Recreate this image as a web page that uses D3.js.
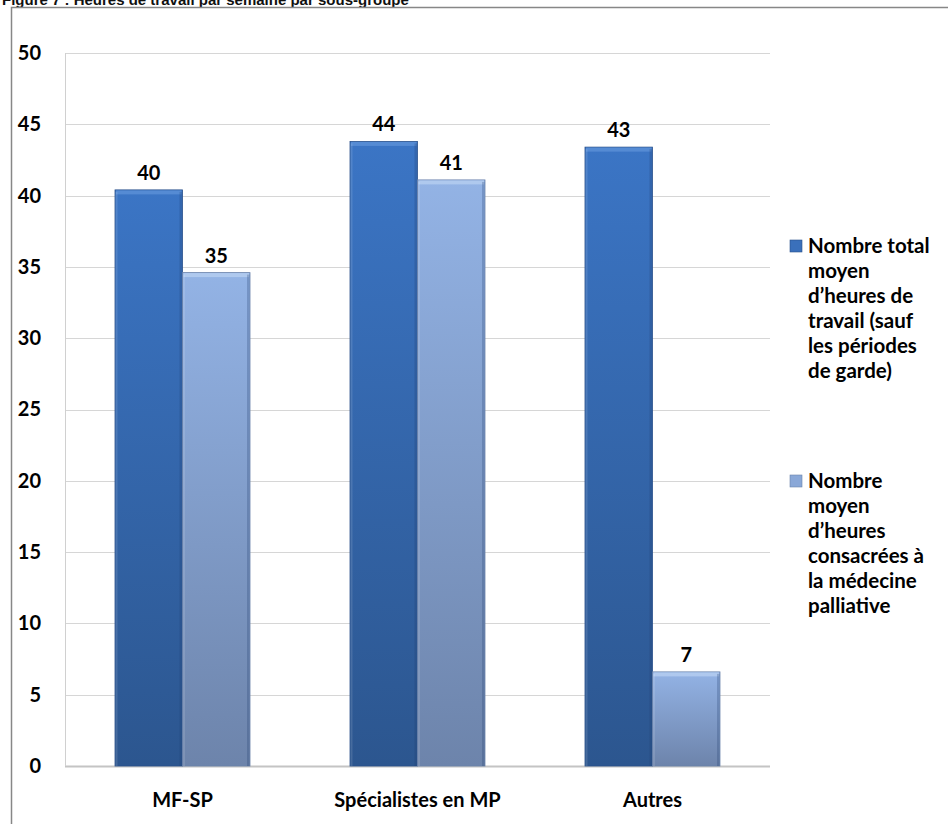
<!DOCTYPE html>
<html>
<head>
<meta charset="utf-8">
<script src="https://cdn.jsdelivr.net/npm/d3@7/dist/d3.min.js"></script>
<style>
  html, body { margin: 0; padding: 0; background: #fff; }
  svg { display: block; }
</style>
</head>
<body>
<script>
// Hours worked per week, by subgroup
const categories = ["MF-SP", "Spécialistes en MP", "Autres"];
const seriesNames = [
  "Nombre total moyen d’heures de travail (sauf les périodes de garde)",
  "Nombre moyen d’heures consacrées à la médecine palliative"
];
const totalHours = [40.4, 43.8, 43.4];
const palliativeHours = [34.6, 41.1, 6.6];
const yTicks = [0, 5, 10, 15, 20, 25, 30, 35, 40, 45, 50];
const legendLines = [
  ["Nombre total", "moyen", "d’heures de", "travail (sauf", "les périodes", "de garde)"],
  ["Nombre", "moyen", "d’heures", "consacrées à", "la médecine", "palliative"]
];
const titleText = "Figure 7 : Heures de travail par semaine par sous-groupe";

const W = 948, H = 824;
const plot = { left: 65, right: 770, top: 53, bottom: 766 };
const font = "Lato, 'Open Sans', 'DejaVu Sans', sans-serif";

const svg = d3.select("body").append("svg")
  .attr("width", W).attr("height", H);

const defs = svg.append("defs");
function grad(id, top, bottom) {
  const g = defs.append("linearGradient").attr("id", id)
    .attr("x1", 0).attr("y1", 0).attr("x2", 0).attr("y2", 1);
  g.append("stop").attr("offset", "0%").attr("stop-color", top);
  g.append("stop").attr("offset", "100%").attr("stop-color", bottom);
}
grad("gDark", "#3b75c5", "#2c568f");
grad("gLight", "#93b3e5", "#6d84ab");
const fills = ["url(#gDark)", "url(#gLight)"];
const legendFills = ["#3a70bb", "#8aa8d8"];

// Title, running off the top of the page
svg.append("text")
  .attr("x", 2).attr("y", 5)
  .attr("font-family", "Arial, 'Liberation Sans', sans-serif")
  .attr("font-weight", "bold").attr("font-size", 15)
  .attr("fill", "#111")
  .text(titleText);

// Chart frame
svg.append("path")
  .attr("d", `M11.5,${H} L11.5,7.5 L${W},7.5`)
  .attr("fill", "none").attr("stroke", "#878787").attr("stroke-width", 1.5);

const x0 = d3.scaleBand().domain(categories)
  .range([plot.left, plot.right])
  .paddingInner(0.4255).paddingOuter(0.2128);
const x1 = d3.scaleBand().domain([0, 1]).range([0, x0.bandwidth()]);
const y = d3.scaleLinear().domain([0, 50]).range([plot.bottom, plot.top]);

// Gridlines
svg.append("g").selectAll("line").data(yTicks).join("line")
  .attr("x1", plot.left).attr("x2", plot.right)
  .attr("y1", d => Math.round(y(d)) + 0.5).attr("y2", d => Math.round(y(d)) + 0.5)
  .attr("stroke", d => d === 0 ? "#c4c4c4" : "#d6d6d6")
  .attr("stroke-width", d => d === 0 ? 2 : 1);

// Left axis line
svg.append("line")
  .attr("x1", plot.left + 0.5).attr("x2", plot.left + 0.5)
  .attr("y1", plot.top).attr("y2", plot.bottom)
  .attr("stroke", "#d0d0d0");

// Y tick labels
const yAxis = d3.axisLeft(y).tickValues(yTicks).tickSize(0).tickPadding(0);
const ya = svg.append("g").attr("transform", `translate(41,0)`).call(yAxis);
ya.select(".domain").remove();
ya.selectAll("text")
  .attr("font-family", font).attr("font-weight", "bold")
  .attr("font-size", 20).attr("fill", "#000");

// Bars
const rows = categories.map((c, i) => ({ cat: c, vals: [totalHours[i], palliativeHours[i]] }));
const groups = svg.append("g").selectAll("g").data(rows).join("g")
  .attr("transform", d => `translate(${x0(d.cat)},0)`);

const bars = groups.selectAll("g.bar").data(d => d.vals.map((v, s) => ({ v, s }))).join("g")
  .attr("class", "bar");

bars.append("rect")
  .attr("x", d => x1(d.s)).attr("width", x1.bandwidth())
  .attr("y", d => y(d.v)).attr("height", d => y(0) - y(d.v))
  .attr("fill", d => fills[d.s])
  .attr("stroke", d => d.s === 0 ? "#2a508a" : "#6a82aa")
  .attr("stroke-width", 0.8);

// Top bevel highlight
bars.append("rect")
  .attr("x", d => x1(d.s) + 1).attr("width", x1.bandwidth() - 2)
  .attr("y", d => y(d.v) + 0.5).attr("height", 4)
  .attr("fill", d => d.s === 0 ? "#5b8fd6" : "#b4cdf0")
  .attr("opacity", 0.85);

// Side shading
bars.append("rect")
  .attr("x", d => x1(d.s) + x1.bandwidth() - 3).attr("width", 2.5)
  .attr("y", d => y(d.v) + 2).attr("height", d => Math.max(0, y(0) - y(d.v) - 2))
  .attr("fill", "#1e3c6a").attr("opacity", 0.25);
bars.append("rect")
  .attr("x", d => x1(d.s) + 0.5).attr("width", 2)
  .attr("y", d => y(d.v) + 2).attr("height", d => Math.max(0, y(0) - y(d.v) - 2))
  .attr("fill", "#ffffff").attr("opacity", 0.12);

// Value labels
bars.append("text")
  .attr("x", d => x1(d.s) + x1.bandwidth() / 2)
  .attr("y", d => y(d.v) - 10)
  .attr("text-anchor", "middle")
  .attr("font-family", font).attr("font-weight", "bold")
  .attr("font-size", 20).attr("fill", "#000")
  .text(d => d3.format(".0f")(d.v));

// Category labels
const xAxis = d3.axisBottom(x0).tickSize(0).tickPadding(0);
const xa = svg.append("g").attr("transform", `translate(0,${plot.bottom + 41})`).call(xAxis);
xa.select(".domain").remove();
xa.selectAll("text")
  .attr("font-family", font).attr("font-weight", "bold")
  .attr("font-size", 20).attr("fill", "#000").attr("dy", 0);

// Legend
const legendTop = [246, 481];
const lg = svg.append("g").selectAll("g").data(seriesNames).join("g")
  .attr("transform", (d, i) => `translate(790,${legendTop[i]})`);
lg.append("rect")
  .attr("x", 0).attr("y", -6).attr("width", 12).attr("height", 12)
  .attr("fill", (d, i) => legendFills[i])
  .attr("stroke", (d, i) => i === 0 ? "#2a508a" : "#6a82aa").attr("stroke-width", 0.6);
lg.append("text")
  .attr("x", 18).attr("y", 7)
  .attr("font-family", font).attr("font-weight", "bold")
  .attr("font-size", 20.5).attr("fill", "#000")
  .selectAll("tspan").data((d, i) => legendLines[i]).join("tspan")
  .attr("x", 18).attr("dy", (d, j) => j === 0 ? 0 : 25)
  .text(d => d);
</script>
</body>
</html>
